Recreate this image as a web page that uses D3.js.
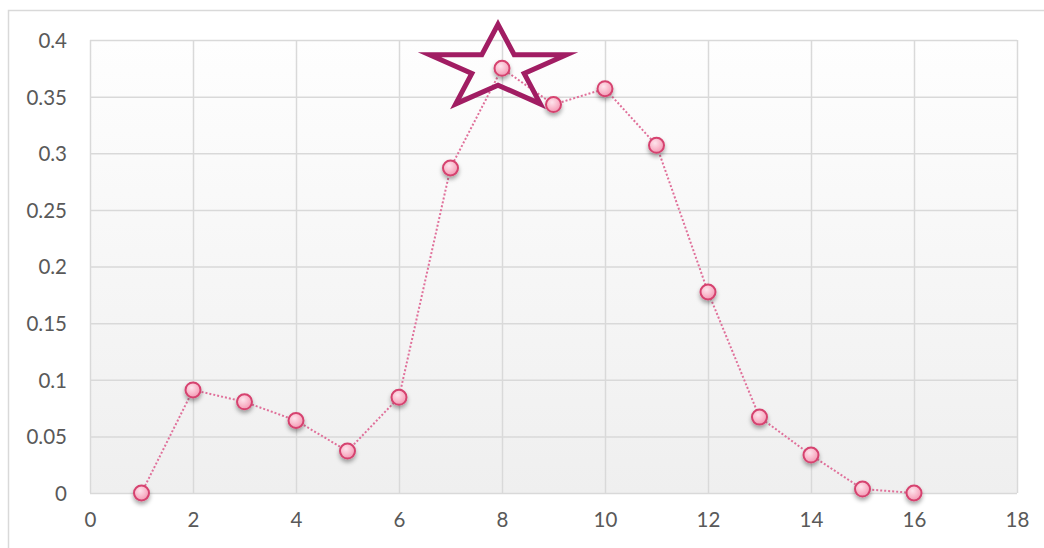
<!DOCTYPE html>
<html>
<head>
<meta charset="utf-8">
<script src="https://cdn.jsdelivr.net/npm/d3@7"></script>
<style>
  html, body { margin: 0; padding: 0; background: #ffffff; overflow: hidden; }
  svg { display: block; }
  .tick text { font-family: Lato, "Open Sans", sans-serif; font-size: 20.5px; fill: #595959; }
</style>
</head>
<body>
<svg id="chart" width="1044" height="548"></svg>
<script>
// Series: x positions and measured values
const xValues = [1, 2, 3, 4, 5, 6, 7, 8, 9, 10, 11, 12, 13, 14, 15, 16];
const yValues = [0, 0.091, 0.0805, 0.064, 0.037, 0.0845, 0.287, 0.375, 0.343, 0.357, 0.307, 0.1775, 0.067, 0.0335, 0.0035, 0];

// Axis ticks
const xTicks = [0, 2, 4, 6, 8, 10, 12, 14, 16, 18];
const yTicks = [0, 0.05, 0.1, 0.15, 0.2, 0.25, 0.3, 0.35, 0.4];
const yTickLabels = ["0", "0.05", "0.1", "0.15", "0.2", "0.25", "0.3", "0.35", "0.4"];

// Highlighted point (peak)
const highlightIndex = 7;

const svg = d3.select("#chart");
const W = 1044, H = 548;
const plot = { left: 90, right: 1017, top: 40, bottom: 493 };

const x = d3.scaleLinear().domain([0, 18]).range([plot.left, plot.right]);
const y = d3.scaleLinear().domain([0, 0.4]).range([plot.bottom, plot.top]);

const defs = svg.append("defs");

// Plot-area background: near white at top fading to light grey
const bg = defs.append("linearGradient").attr("id", "plotBg")
  .attr("x1", 0).attr("y1", 0).attr("x2", 0).attr("y2", 1);
bg.append("stop").attr("offset", "0%").attr("stop-color", "#fefefe");
bg.append("stop").attr("offset", "100%").attr("stop-color", "#efefef");

// Marker fill: glossy pink bead
const mk = defs.append("radialGradient").attr("id", "markerFill")
  .attr("cx", "40%").attr("cy", "35%").attr("r", "65%");
mk.append("stop").attr("offset", "0%").attr("stop-color", "#fde4ec");
mk.append("stop").attr("offset", "60%").attr("stop-color", "#f9b8cb");
mk.append("stop").attr("offset", "100%").attr("stop-color", "#f29ab5");

// Soft shadow under markers
const sh = defs.append("filter").attr("id", "markerShadow")
  .attr("x", "-60%").attr("y", "-60%").attr("width", "220%").attr("height", "240%");
sh.append("feDropShadow").attr("dx", 0).attr("dy", 3).attr("stdDeviation", 2)
  .attr("flood-color", "#000").attr("flood-opacity", 0.35);

// Outer chart frame (extends past the right and bottom edges)
svg.append("rect")
  .attr("x", 8.5).attr("y", 10.5).attr("width", W + 50).attr("height", H + 50)
  .attr("fill", "#ffffff").attr("stroke", "#d9d9d9").attr("stroke-width", 1.5);

// Plot-area background
svg.append("rect")
  .attr("x", plot.left).attr("y", plot.top)
  .attr("width", plot.right - plot.left).attr("height", plot.bottom - plot.top)
  .attr("fill", "url(#plotBg)");

// Gridlines via axes
const gridY = svg.append("g")
  .attr("transform", `translate(${plot.left},0)`)
  .call(d3.axisLeft(y).tickValues(yTicks).tickSize(-(plot.right - plot.left)).tickFormat(""));
const gridX = svg.append("g")
  .attr("transform", `translate(0,${plot.bottom})`)
  .call(d3.axisBottom(x).tickValues(xTicks).tickSize(-(plot.bottom - plot.top)).tickFormat(""));
[gridY, gridX].forEach(g => {
  g.select(".domain").remove();
  g.selectAll(".tick line").attr("stroke", "#d9d9d9").attr("stroke-width", 1.5);
});

// Tick labels
const yAxis = svg.append("g")
  .attr("transform", `translate(${plot.left},0)`)
  .call(d3.axisLeft(y).tickValues(yTicks).tickSize(0).tickPadding(23)
    .tickFormat((d, i) => yTickLabels[i]));
yAxis.select(".domain").remove();
yAxis.selectAll(".tick text").attr("dy", "0.36em");

const xAxis = svg.append("g")
  .attr("transform", `translate(0,${plot.bottom})`)
  .call(d3.axisBottom(x).tickValues(xTicks).tickSize(0).tickPadding(19).tickFormat(d3.format("d")));
xAxis.select(".domain").remove();

const data = xValues.map((v, i) => ({ x: v, y: yValues[i] }));

// Dotted connecting line
svg.append("path")
  .datum(data)
  .attr("fill", "none")
  .attr("stroke", "#e0709a")
  .attr("stroke-width", 2)
  .attr("stroke-dasharray", "2 2")
  .attr("d", d3.line().x(d => x(d.x)).y(d => y(d.y)));

// Markers
svg.append("g").selectAll("circle")
  .data(data)
  .join("circle")
  .attr("cx", d => x(d.x))
  .attr("cy", d => y(d.y))
  .attr("r", 7.5)
  .attr("fill", "url(#markerFill)")
  .attr("stroke", "#d6436f")
  .attr("stroke-width", 2)
  .attr("filter", "url(#markerShadow)");

// Outlined star around the peak point (horizontally stretched five-point star)
const peak = data[highlightIndex];
const cx = x(peak.x) - 4, cy = y(peak.y);
const Rx = 72, Ry = 44, inner = 0.382;
const starPts = d3.range(10).map(k => {
  const a = -Math.PI / 2 + k * Math.PI / 5;
  const f = k % 2 === 0 ? 1 : inner;
  return [cx + Math.cos(a) * Rx * f, cy + Math.sin(a) * Ry * f];
});
svg.append("path")
  .attr("d", d3.line()(starPts) + "Z")
  .attr("fill", "none")
  .attr("stroke", "#a11d63")
  .attr("stroke-width", 5)
  .attr("stroke-linejoin", "miter")
  .attr("stroke-miterlimit", 10);
</script>
</body>
</html>
